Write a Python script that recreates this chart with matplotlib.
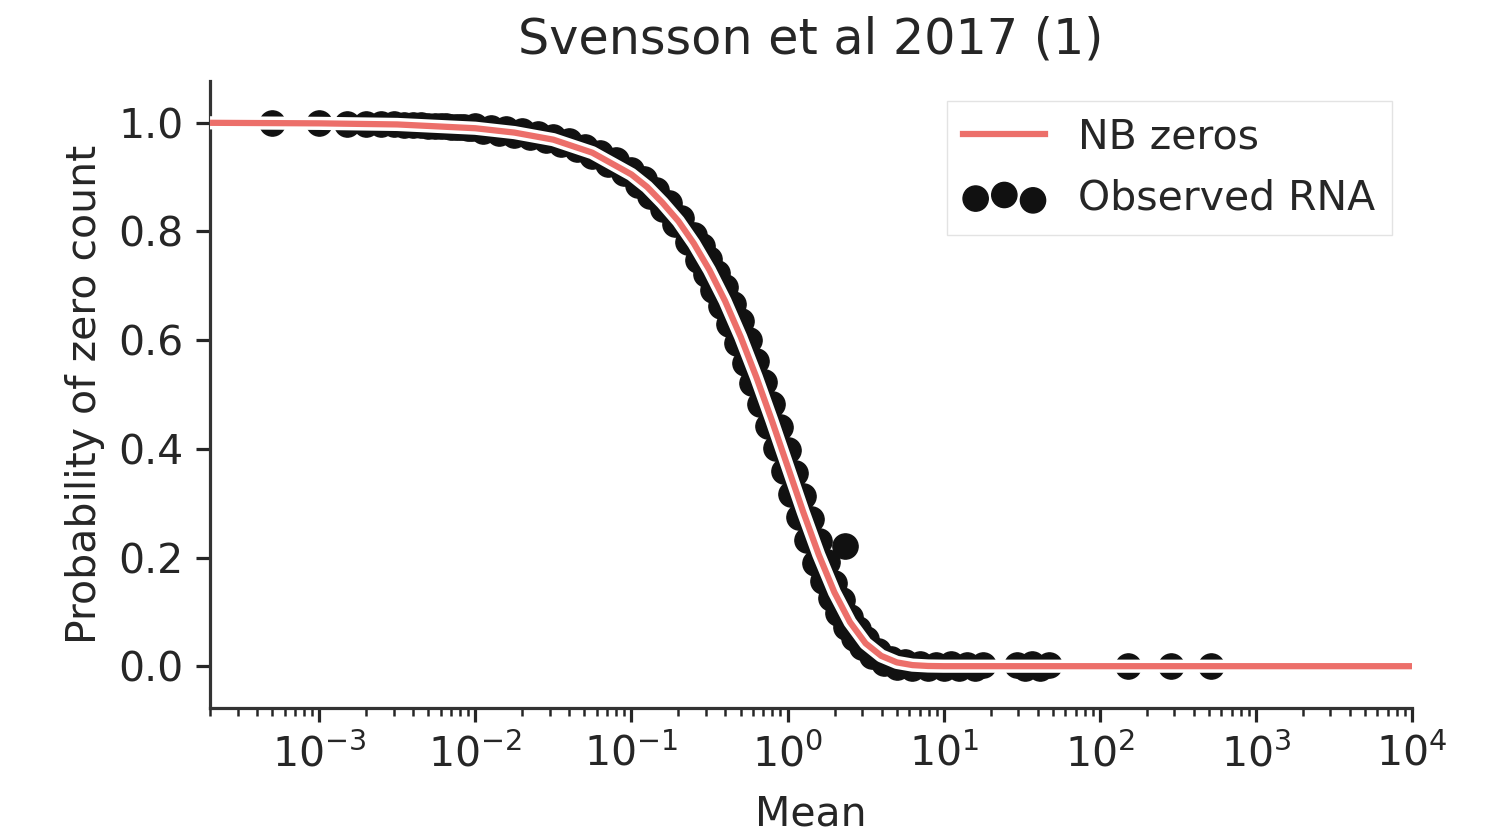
import matplotlib
matplotlib.use("Agg")
import matplotlib.pyplot as plt
from matplotlib.lines import Line2D

# ---------------- data ----------------
title = "Svensson et al 2017 (1)"
xlabel = "Mean"
ylabel = "Probability of zero count"
y_ticks = [0.0, 0.2, 0.4, 0.6, 0.8, 1.0]
x_ticks = [1e-3, 1e-2, 1e-1, 1e0, 1e1, 1e2, 1e3, 1e4]

# NB zeros model curve
nb_mean = [0.0002, 0.001, 0.00316, 0.01, 0.0178, 0.0316, 0.0562, 0.1, 0.126,
           0.158, 0.2, 0.251, 0.316, 0.398, 0.501, 0.631, 0.794, 1.0, 1.259,
           1.585, 1.995, 2.512, 3.162, 3.981, 5.012, 6.31, 7.943, 10.0, 10000.0]
nb_zero = [1.0, 0.999, 0.997, 0.990, 0.982, 0.969, 0.945, 0.905, 0.882,
           0.853, 0.819, 0.778, 0.729, 0.672, 0.606, 0.532, 0.452, 0.368, 0.284,
           0.205, 0.136, 0.081, 0.042, 0.019, 0.007, 0.002, 0.0004, 0.0, 0.0]

# Observed RNA (gene mean vs. fraction of zero counts)
obs_mean = [
    0.0005, 0.001, 0.0015, 0.002, 0.0025, 0.003, 0.0035, 0.004, 0.0045, 0.005,
    0.0055, 0.006, 0.0065, 0.007, 0.0075, 0.008, 0.0085, 0.009, 0.0095,
    0.0100, 0.0112, 0.0126, 0.0141, 0.0158, 0.0178, 0.0200, 0.0224, 0.0251,
    0.0282, 0.0316, 0.0355, 0.0398, 0.0447, 0.0501, 0.0562, 0.0631, 0.0708,
    0.0794, 0.0891,
    0.100, 0.1096, 0.1202, 0.1318, 0.1445, 0.1585, 0.1738, 0.1905, 0.2089,
    0.2291,
    0.2512, 0.2661, 0.2818, 0.2985, 0.3162, 0.3350, 0.3548, 0.3758, 0.3981,
    0.4217, 0.4467, 0.4732, 0.5012, 0.5309, 0.5623, 0.5957, 0.6310, 0.6683,
    0.7079, 0.7499, 0.7943, 0.8414, 0.8913, 0.9441, 1.000, 1.059, 1.122,
    1.189, 1.259, 1.334, 1.413, 1.496, 1.585, 1.679, 1.778, 1.884, 1.995,
    2.113, 2.239, 2.371, 2.512, 2.661, 2.818, 2.985,
    3.162, 3.467, 3.802, 4.169, 4.571, 5.012, 5.623, 6.310, 7.079, 7.943,
    8.9, 10.0, 11.2, 12.6, 14.1, 15.8, 17.8,
    29.5, 33.0, 37.0, 41.5, 47.0,
    151.0, 285.0, 515.0,
    2.35,
]
obs_zero = [
    0.9995, 0.999, 0.9985, 0.998, 0.9975, 0.997, 0.9965, 0.996, 0.9955, 0.995,
    0.9945, 0.994, 0.9935, 0.993, 0.9925, 0.992, 0.9915, 0.991, 0.9905,
    0.994, 0.985, 0.991, 0.982, 0.988, 0.978, 0.984, 0.974, 0.979,
    0.968, 0.973, 0.961, 0.966, 0.951, 0.956, 0.939, 0.945, 0.925,
    0.931, 0.907,
    0.914, 0.886, 0.897, 0.866, 0.876, 0.841, 0.852, 0.814, 0.825,
    0.780,
    0.794, 0.748, 0.773, 0.722, 0.750, 0.693, 0.724, 0.663, 0.697,
    0.630, 0.667, 0.595, 0.635, 0.558, 0.600, 0.521, 0.562, 0.483,
    0.523, 0.442, 0.482, 0.401, 0.440, 0.359, 0.398, 0.317, 0.356,
    0.275, 0.314, 0.233, 0.271, 0.189, 0.231, 0.157, 0.191, 0.126, 0.154,
    0.097, 0.121, 0.073, 0.091, 0.052, 0.068, 0.036,
    0.050, 0.019, 0.028, 0.005, 0.014, -0.001, 0.007, -0.003, 0.004, -0.004,
    0.003, -0.004, 0.004, -0.004, 0.003, -0.004, 0.003,
    0.003, -0.004, 0.004, -0.004, 0.003,
    0.0, 0.0, 0.0,
    0.222,
]

# ---------------- style ----------------
TXT = "#262626"
plt.rcParams.update({
    "font.family": ["DejaVu Sans"],
    "font.size": 29.5,
    "text.color": TXT,
    "axes.labelcolor": TXT,
    "xtick.color": TXT,
    "ytick.color": TXT,
    "axes.edgecolor": "#333333",
})

RED = "#ec6f6a"

fig = plt.figure(figsize=(14.96, 8.39), dpi=100)
ax = fig.add_axes([0.1404, 0.1561, 0.9439 - 0.1404, 0.9035 - 0.1561])

ax.scatter(obs_mean, obs_zero, s=330, color="#111111", edgecolors="#111111",
           linewidths=1.0, zorder=2)
ax.plot(nb_mean, nb_zero, color="white", lw=9.5, zorder=3,
        solid_capstyle="butt")
ax.plot(nb_mean, nb_zero, color=RED, lw=4.5, zorder=4, solid_capstyle="butt")

ax.set_xscale("log")
ax.set_xlim(2e-4, 1e4)
ax.set_xticks(x_ticks)
ax.set_ylim(-0.077, 1.077)
ax.set_yticks(y_ticks)
ax.set_yticklabels([f"{v:.1f}" for v in y_ticks])

for side in ("top", "right"):
    ax.spines[side].set_visible(False)
for side in ("left", "bottom"):
    ax.spines[side].set_linewidth(2.3)

ax.tick_params(which="major", length=10, width=2.3, pad=9)
ax.tick_params(which="minor", length=5.8, width=1.8)

ax.set_title(title, fontsize=35.5, pad=20)
ax.set_xlabel(xlabel, labelpad=14)
ax.set_ylabel(ylabel, labelpad=10)

handles = [
    Line2D([], [], color=RED, lw=4.5),
    ax.collections[0],
]
ax.legend(handles, ["NB zeros", "Observed RNA"], loc="upper right",
          scatterpoints=3, fancybox=False, edgecolor="#dddddd")

fig.savefig("out.png", dpi=100)
